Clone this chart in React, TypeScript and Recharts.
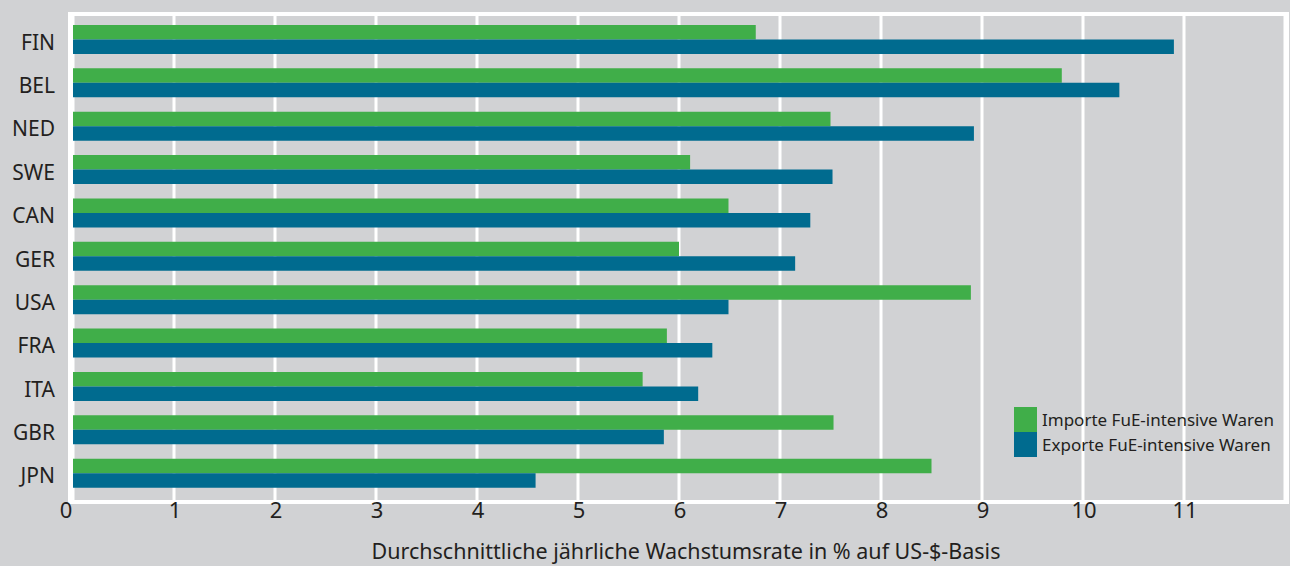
import React from "react";
import {
  BarChart,
  Bar,
  XAxis,
  YAxis,
  CartesianGrid,
  Legend,
} from "recharts";

// Länder (von oben nach unten)
const laender = ["FIN", "BEL", "NED", "SWE", "CAN", "GER", "USA", "FRA", "ITA", "GBR", "JPN"];
// Durchschnittliche jährliche Wachstumsrate in %
const importe = [6.76, 9.79, 7.5, 6.11, 6.49, 6.0, 8.89, 5.88, 5.64, 7.53, 8.5];
const exporte = [10.9, 10.36, 8.92, 7.52, 7.3, 7.15, 6.49, 6.33, 6.19, 5.85, 4.58];
const xTicks = [0, 1, 2, 3, 4, 5, 6, 7, 8, 9, 10, 11];
const serienNamen = ["Importe FuE-intensive Waren", "Exporte FuE-intensive Waren"];

const data = laender.map((land, i) => ({
  land,
  importe: importe[i],
  exporte: exporte[i],
}));

const FONT = "'Noto Sans', 'Open Sans', sans-serif";
const TEXT = "#231f20";
const GREEN = "#40ae49";
const BLUE = "#006b8f";
const BG = "#d1d2d4";

const XTick = (props: any) => {
  const { x, y, payload } = props;
  const dx = payload.value === 0 ? -7 : 1;
  return (
    <text x={x + dx} y={y} dy={16} textAnchor="middle" fill={TEXT} fontSize={22} fontFamily={FONT}>
      {payload.value}
    </text>
  );
};

const YTick = (props: any) => {
  const { x, y, payload } = props;
  return (
    <text x={x} y={y} dy={10} textAnchor="end" fill={TEXT} fontSize={21} fontFamily={FONT}>
      {payload.value}
    </text>
  );
};

const LegendBox = (props: any) => {
  const items = [...(props.payload || [])].sort(
    (a: any, b: any) => serienNamen.indexOf(a.value) - serienNamen.indexOf(b.value)
  );
  return (
    <div style={{ fontFamily: FONT, fontSize: 17, color: TEXT }}>
      {items.map((p: any) => (
        <div key={p.value} style={{ display: "flex", alignItems: "center", height: 25 }}>
          <span style={{ width: 23, height: 25, background: p.color, display: "inline-block", marginRight: 5 }} />
          <span>{p.value}</span>
        </div>
      ))}
    </div>
  );
};

export default function App() {
  return (
    <div
      style={{
        position: "absolute",
        left: 0,
        top: 0,
        width: 1290,
        height: 566,
        background: BG,
        overflow: "hidden",
      }}
    >
      {/* weißer Rahmen um die Plotfläche */}
      <div
        style={{
          position: "absolute",
          left: 68,
          top: 12,
          width: 1213,
          height: 484,
          border: "4px solid #ffffff",
        }}
      />
      <BarChart
        width={1290}
        height={566}
        data={data}
        layout="vertical"
        margin={{ top: 16, right: 5, left: 0, bottom: 0 }}
        barGap={0}
        barSize={14.5}
        style={{ position: "absolute", left: 0, top: 0 }}
      >
        <CartesianGrid horizontal={false} stroke="#ffffff" strokeWidth={3} />
        <XAxis
          type="number"
          domain={[0, 12]}
          ticks={xTicks}
          axisLine={false}
          tickLine={false}
          tickSize={0}
          tick={<XTick />}
          height={66}
          interval={0}
          label={{
            value: "Durchschnittliche jährliche Wachstumsrate in % auf US-$-Basis",
            position: "insideBottom",
            offset: 7,
            fill: TEXT,
            fontSize: 21.5,
            fontFamily: FONT,
            dx: 7,
          }}
        />
        <YAxis
          type="category"
          dataKey="land"
          width={73}
          axisLine={false}
          tickLine={false}
          tickSize={0}
          tickMargin={18}
          tick={<YTick />}
          padding={{ top: 2, bottom: 5 }}
          interval={0}
        />
        <Legend
          layout="vertical"
          align="center"
          verticalAlign="middle"
          content={<LegendBox />}
          wrapperStyle={{ position: "absolute", left: 1014, top: 407, width: 274 }}
        />
        <Bar dataKey="importe" name={serienNamen[0]} fill={GREEN} isAnimationActive={false} />
        <Bar dataKey="exporte" name={serienNamen[1]} fill={BLUE} isAnimationActive={false} />
      </BarChart>
    </div>
  );
}
